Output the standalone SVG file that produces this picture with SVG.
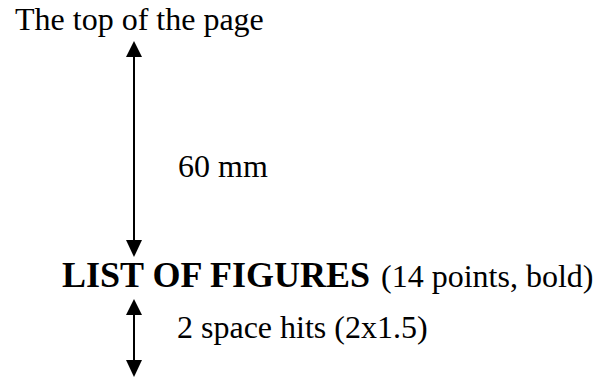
<svg xmlns="http://www.w3.org/2000/svg" width="600" height="377" viewBox="0 0 600 377">
<style>
.t{font-family:"Liberation Serif","Times New Roman",serif;font-size:32px;fill:#000}
.b{font-weight:bold;font-size:36px}
.ln{stroke:#000;stroke-width:2;fill:none}
.hd{fill:#000}
</style>
<rect width="600" height="377" fill="#fff"/>
<g id="connectors">
<line class="ln" x1="134" y1="55" x2="134" y2="242"/>
<polygon class="hd" points="134,41 126,57 142,57"/>
<polygon class="hd" points="134,257 126,240 142,240"/>
<line class="ln" x1="134" y1="313" x2="134" y2="362"/>
<polygon class="hd" points="134,299 126,315 142,315"/>
<polygon class="hd" points="134,377 126,360 142,360"/>
</g>
<g id="top"><text class="t" x="15" y="30">The top of the page</text></g>
<g id="dist"><text class="t" x="178" y="177">60 mm</text></g>
<g id="heading"><text class="t b" x="62" y="287">LIST OF FIGURES</text><text class="t" x="381" y="287">(14 points, bold)</text></g>
<g id="space"><text class="t" x="177" y="338">2 space hits (2x1.5)</text></g>
</svg>
